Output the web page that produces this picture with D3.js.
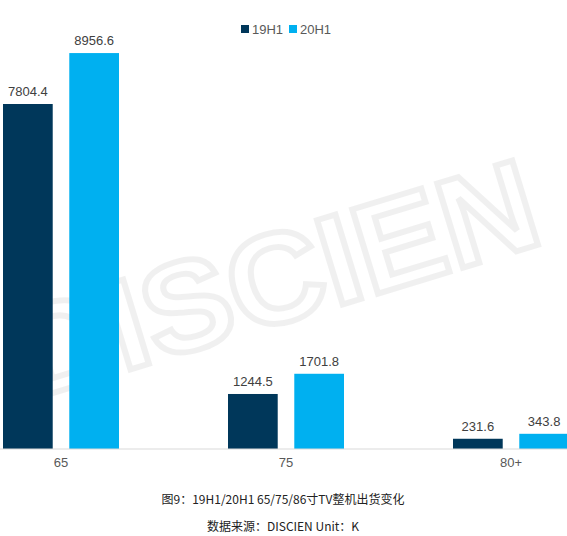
<!DOCTYPE html>
<html><head><meta charset="utf-8">
<script src="https://cdn.jsdelivr.net/npm/d3@7"></script>
<style>body{margin:0;background:#fff;font-family:"Liberation Sans","Noto Sans CJK SC",sans-serif}</style>
</head><body><svg width="567" height="536"></svg>
<script>
// sizes by category
const categories = ["65", "75", "80+"]
const seriesNames = ["19H1", "20H1"]
const values19 = [7804.4, 1244.5, 231.6]
const values20 = [8956.6, 1701.8, 343.8]
const colors = ["#00375A", "#00B0F0"]

const svg = d3.select('svg')
const baseline = 449

const x = d3.scaleBand().domain(categories).range([-51.5, 623.5]).paddingInner(0).paddingOuter(0)
const inner = d3.scaleBand().domain(seriesNames).range([x.bandwidth()/2 - 58, x.bandwidth()/2 + 58]).paddingInner(0.25)
const y = d3.scaleLinear().domain([0, 7804.4]).range([baseline, 104])

// watermark, sized to stay inside the picture
svg.append('text')
    .attr('transform', 'translate(30,400) rotate(-17)')
    .attr('font-size', 128).attr('font-weight', 'bold')
    .attr('textLength', 540).attr('lengthAdjust', 'spacingAndGlyphs')
    .attr('fill', 'none').attr('stroke', '#000').attr('stroke-opacity', 0.06).attr('stroke-width', 6)
    .text('DISCIEN')

const data = categories.map((c, i) => ({cat: c, vals: [values19[i], values20[i]]}))

const g = svg.selectAll('.grp').data(data).join('g')
    .attr('transform', d => `translate(${x(d.cat)},0)`)

g.selectAll('rect').data(d => d.vals.map((v, j) => ({v, s: seriesNames[j], j}))).join('rect')
    .attr('x', d => inner(d.s)).attr('width', inner.bandwidth())
    .attr('y', d => y(d.v)).attr('height', d => baseline - y(d.v))
    .attr('fill', d => colors[d.j])

g.selectAll('.lbl').data(d => d.vals.map((v, j) => ({v, s: seriesNames[j]}))).join('text')
    .attr('x', d => inner(d.s) + inner.bandwidth()/2).attr('y', d => y(d.v) - 8)
    .attr('text-anchor', 'middle').attr('font-size', 13).attr('fill', '#404040')
    .text(d => d.v.toFixed(1))

svg.append('line').attr('x1', 0).attr('x2', 567).attr('y1', baseline).attr('y2', baseline)
    .attr('stroke', '#d9d9d9')

svg.append('g').attr('transform', `translate(0,${baseline})`)
    .call(d3.axisBottom(x).tickSize(0).tickPadding(9))
    .call(a => a.select('.domain').remove())
    .selectAll('text').attr('font-size', 13).attr('fill', '#595959').attr('font-family', 'Liberation Sans')

// legend
const lg = svg.selectAll('.leg').data(seriesNames).join('g')
    .attr('transform', (d, i) => `translate(${241 + i * 48},23)`)
lg.append('rect').attr('width', 8).attr('height', 8).attr('y', 2).attr('fill', (d, i) => colors[i])
lg.append('text').attr('x', 11).attr('y', 11).attr('font-size', 13).attr('fill', '#595959').text(d => d)

svg.append('text').attr('x', 283).attr('y', 504).attr('text-anchor', 'middle').attr('font-size', 12)
    .attr('fill', '#222').attr('font-family', 'Noto Sans CJK SC').text('图9：19H1/20H1 65/75/86寸TV整机出货变化')
svg.append('text').attr('x', 283).attr('y', 531).attr('text-anchor', 'middle').attr('font-size', 12)
    .attr('fill', '#222').attr('font-family', 'Noto Sans CJK SC').text('数据来源：DISCIEN Unit：K')
</script></body></html>
